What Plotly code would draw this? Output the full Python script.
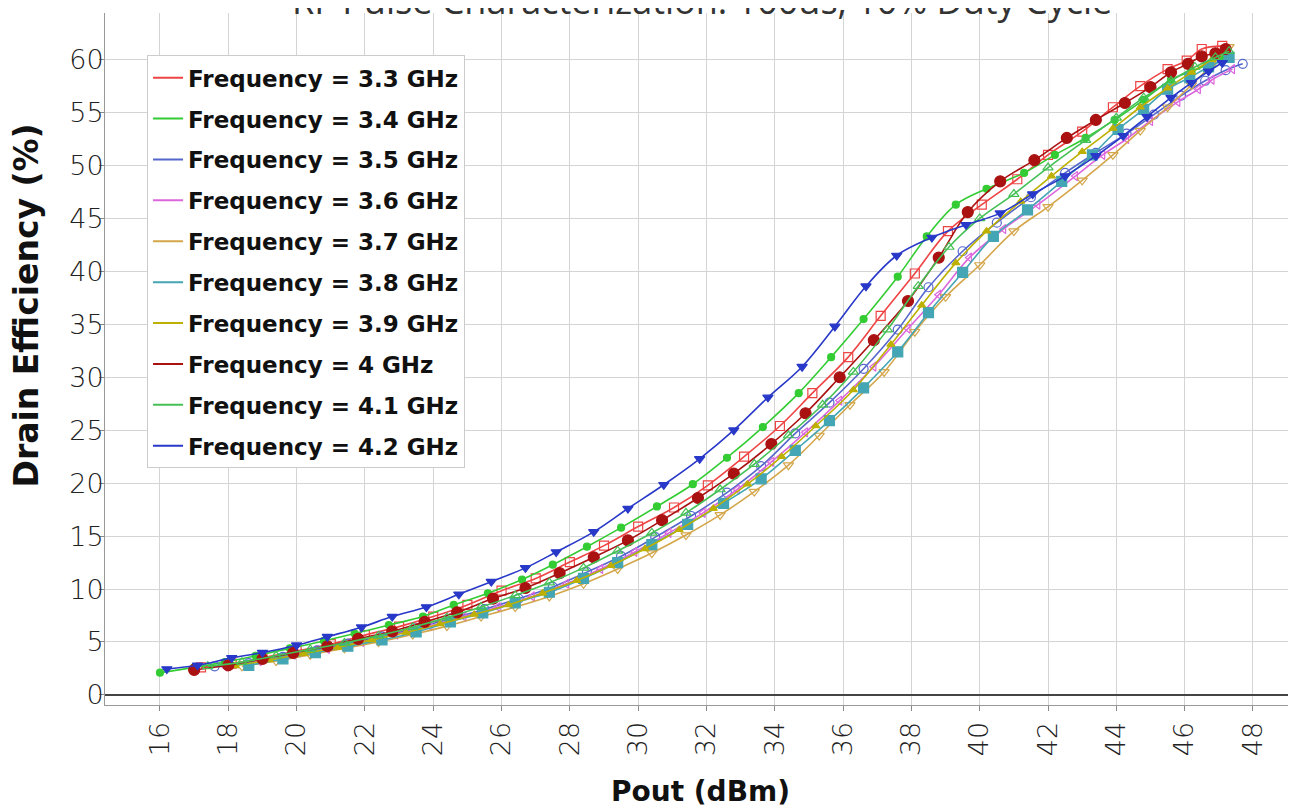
import plotly.graph_objects as go

# Pout (dBm) / drain efficiency (%) per frequency
freqs = ["3.3", "3.4", "3.5", "3.6", "3.7", "3.8", "3.9", "4", "4.1", "4.2"]

x_33 = [17.2, 18.1, 19.0, 20.0, 21.0, 22.0, 23.0, 24.0, 25.0, 26.0, 27.0, 28.0, 29.0, 30.0, 31.05, 32.04, 33.1,
        34.15, 35.1, 36.15, 37.1, 38.1, 39.07, 40.06, 41.1, 42.0, 43.0, 43.9, 44.7, 45.5, 46.06, 46.5, 47.1]
y_33 = [2.6, 2.95, 3.5, 4.15, 4.8, 5.65, 6.45, 7.4, 8.5, 9.85, 11.0, 12.55, 14.1, 15.9, 17.7, 19.8, 22.5,
        25.4, 28.5, 31.9, 35.8, 39.8, 43.8, 46.3, 48.7, 51.0, 53.2, 55.5, 57.5, 59.1, 59.9, 61.0, 61.3]

x_34 = [16.0, 17.0, 17.9, 18.8, 19.8, 20.8, 21.7, 22.7, 23.7, 24.6, 25.6, 26.6, 27.5, 28.5, 29.5, 30.55, 31.6, 32.6,
        33.65, 34.7, 35.65, 36.6, 37.6, 38.45, 39.3, 40.2, 41.3, 42.2, 43.1, 43.95, 44.8, 45.6, 46.2, 46.8, 47.1]
y_34 = [2.1, 2.6, 3.1, 3.7, 4.4, 5.1, 5.8, 6.6, 7.4, 8.5, 9.6, 10.9, 12.3, 14.0, 15.8, 17.8, 19.9, 22.4,
        25.3, 28.5, 31.9, 35.5, 39.5, 43.3, 46.3, 47.8, 49.3, 51.0, 52.6, 54.3, 56.2, 58.1, 58.9, 59.7, 60.3]

x_35 = [17.6, 18.6, 19.6, 20.6, 21.5, 22.5, 23.5, 24.5, 25.5, 26.5, 27.5, 28.5, 29.5, 30.5, 31.55, 32.6, 33.6,
        34.6, 35.6, 36.6, 37.6, 38.5, 39.5, 40.5, 41.5, 42.5, 43.4, 44.3, 45.1, 45.9, 46.6, 47.2, 47.7]
y_35 = [2.7, 3.0, 3.6, 4.2, 4.85, 5.5, 6.3, 7.2, 8.1, 9.1, 10.2, 11.6, 13.1, 14.9, 16.9, 19.1, 21.6,
        24.7, 27.6, 30.8, 34.5, 38.5, 41.9, 44.6, 47.0, 49.3, 51.2, 53.0, 54.8, 56.6, 58.0, 59.0, 59.6]

x_36 = [17.9, 18.9, 19.9, 20.9, 21.9, 22.9, 23.9, 24.9, 25.9, 26.9, 27.9, 28.9, 29.9, 30.9, 31.9, 32.9, 33.9,
        34.9, 35.9, 36.9, 37.9, 38.8, 39.7, 40.7, 41.7, 42.8, 43.6, 44.3, 45.0, 45.8, 46.4, 46.8, 47.4]
y_36 = [2.7, 3.2, 3.8, 4.35, 5.0, 5.7, 6.5, 7.4, 8.3, 9.3, 10.5, 11.9, 13.5, 15.3, 17.2, 19.4, 22.0,
        24.8, 27.8, 31.0, 34.6, 37.8, 41.3, 44.0, 46.3, 49.0, 51.0, 52.5, 54.2, 56.0, 57.2, 58.1, 59.1]

x_37 = [18.4, 19.4, 20.4, 21.4, 22.4, 23.4, 24.4, 25.4, 26.4, 27.4, 28.4, 29.4, 30.4, 31.4, 32.4, 33.4, 34.4,
        35.3, 36.2, 37.2, 38.1, 39.0, 40.0, 41.0, 42.0, 43.0, 43.9, 44.7, 45.5, 46.2, 46.8, 47.3]
y_37 = [2.7, 3.2, 3.8, 4.4, 5.0, 5.7, 6.5, 7.4, 8.3, 9.3, 10.5, 11.9, 13.4, 15.1, 17.0, 19.2, 21.7,
        24.5, 27.4, 30.5, 34.3, 37.6, 40.6, 43.8, 46.1, 48.6, 51.0, 53.3, 55.5, 57.6, 59.5, 61.2]

x_38 = [18.6, 19.6, 20.55, 21.5, 22.5, 23.5, 24.5, 25.45, 26.4, 27.4, 28.4, 29.4, 30.4, 31.45, 32.5, 33.6,
        34.6, 35.6, 36.6, 37.6, 38.5, 39.5, 40.4, 41.4, 42.4, 43.3, 44.05, 44.8, 45.5, 46.15, 46.7, 47.3]
y_38 = [2.8, 3.4, 4.0, 4.6, 5.2, 5.95, 6.9, 7.75, 8.7, 9.7, 11.0, 12.5, 14.2, 16.1, 18.1, 20.4,
        23.1, 25.9, 29.0, 32.4, 36.1, 39.9, 43.3, 45.8, 48.5, 51.0, 53.4, 55.3, 57.2, 58.3, 59.3, 60.2]

x_39 = [18.2, 19.2, 20.2, 21.2, 22.2, 23.2, 24.2, 25.2, 26.2, 27.2, 28.2, 29.2, 30.2, 31.2, 32.2, 33.2, 34.2,
        35.2, 36.3, 37.4, 38.3, 39.3, 40.2, 41.2, 42.1, 43.0, 43.9, 44.7, 45.5, 46.2, 46.8, 47.2]
y_39 = [2.75, 3.3, 3.9, 4.5, 5.2, 5.9, 6.7, 7.6, 8.5, 9.6, 10.8, 12.2, 13.8, 15.6, 17.6, 19.9, 22.5,
        25.4, 28.8, 33.1, 36.8, 40.8, 43.8, 46.6, 49.0, 51.3, 53.5, 55.5, 57.3, 58.8, 60.0, 60.8]

x_40 = [17.0, 18.0, 19.0, 19.9, 20.9, 21.8, 22.8, 23.75, 24.7, 25.75, 26.7, 27.7, 28.7, 29.7, 30.7, 31.75, 32.8,
        33.9, 34.9, 35.9, 36.9, 37.9, 38.8, 39.65, 40.6, 41.6, 42.55, 43.4, 44.25, 45.0, 45.6, 46.1, 46.5, 46.9, 47.2]
y_40 = [2.36, 2.8, 3.4, 3.97, 4.6, 5.3, 6.0, 6.9, 7.8, 9.1, 10.1, 11.5, 13.0, 14.6, 16.5, 18.6, 20.9,
        23.7, 26.6, 30.0, 33.5, 37.2, 41.3, 45.6, 48.5, 50.5, 52.6, 54.3, 55.9, 57.4, 58.8, 59.6, 60.3, 60.6, 61.0]

x_41 = [17.4, 18.4, 19.4, 20.4, 21.4, 22.4, 23.4, 24.4, 25.4, 26.4, 27.4, 28.4, 29.4, 30.4, 31.4, 32.4, 33.4,
        34.4, 35.4, 36.3, 37.3, 38.2, 39.1, 40.0, 41.0, 42.0, 43.1, 44.0, 44.8, 45.6, 46.3, 46.9, 47.3]
y_41 = [2.7, 3.1, 3.7, 4.3, 4.9, 5.6, 6.4, 7.3, 8.3, 9.4, 10.6, 12.0, 13.6, 15.3, 17.2, 19.4, 21.8,
        24.5, 27.4, 30.5, 34.5, 38.6, 42.3, 45.0, 47.3, 49.8, 52.4, 54.5, 56.4, 58.0, 59.3, 60.2, 60.8]

x_42 = [16.2, 17.1, 18.1, 19.0, 20.0, 20.9, 21.9, 22.8, 23.8, 24.75, 25.7, 26.7, 27.6, 28.7, 29.7, 30.75, 31.8,
        32.8, 33.8, 34.8, 35.76, 36.67, 37.57, 38.6, 39.6, 40.6, 41.55, 42.5, 43.4, 44.2, 44.9, 45.6, 46.2, 46.7, 47.1]
y_42 = [2.45, 2.8, 3.5, 4.0, 4.7, 5.5, 6.4, 7.4, 8.3, 9.5, 10.7, 12.0, 13.5, 15.4, 17.6, 19.85, 22.3,
        25.0, 28.1, 31.0, 34.8, 38.6, 41.5, 43.2, 44.4, 45.5, 47.3, 49.0, 50.9, 52.8, 54.6, 56.4, 57.8, 58.9, 59.7]

xs = [x_33, x_34, x_35, x_36, x_37, x_38, x_39, x_40, x_41, x_42]
ys = [y_33, y_34, y_35, y_36, y_37, y_38, y_39, y_40, y_41, y_42]

colors = ["#ee4444", "#33cc33", "#5566cc", "#dd66dd", "#d4a64a",
          "#44a6b4", "#bdb000", "#aa1111", "#44c055", "#2838c8"]
symbols = ["square-open", "circle", "circle-open", "triangle-left-open", "triangle-down-open",
           "square", "triangle-up", "circle", "triangle-up-open", "triangle-down"]
sizes = [9, 7, 9, 8, 9, 10, 7, 11, 9, 9]

fig = go.Figure()

for i, f in enumerate(freqs):
    fig.add_trace(go.Scatter(
        x=xs[i], y=ys[i],
        mode="lines+markers",
        line=dict(color=colors[i], width=1.6, shape="spline"),
        marker=dict(symbol=symbols[i], size=sizes[i], color=colors[i],
                    line=dict(color=colors[i], width=1.2)),
        showlegend=False,
    ))

# legend shows only the line
for i, f in enumerate(freqs):
    fig.add_trace(go.Scatter(
        x=[None], y=[None],
        mode="lines",
        line=dict(color=colors[i], width=2),
        name=f"Frequency = {f} GHz",
        legendgroup=f,
    ))

# title sits mostly above the top edge, only its lower part shows
fig.add_annotation(
    text="RF Pulse Characterization: 100us, 10% Duty Cycle",
    xref="paper", yref="paper", x=0.501, y=1.0174,
    xanchor="center", yanchor="middle", showarrow=False,
    font=dict(family="Open Sans", size=36, color="#333"),
)

# y title placed by hand (sits a bit above the middle in the original)
fig.add_annotation(
    text="<b>Drain Efficiency (%)</b>",
    xref="paper", yref="paper", x=-0.066, y=0.578,
    xanchor="center", yanchor="middle", textangle=-90, showarrow=False,
    font=dict(family="DejaVu Sans", size=33, color="#111"),
)

fig.update_layout(
    width=1288, height=800,
    margin=dict(l=97, r=0, t=5, b=103),
    paper_bgcolor="white",
    plot_bgcolor="white",
    font=dict(family="Open Sans", color="#222"),
    legend=dict(x=0.0353, y=0.939, xanchor="left", yanchor="top",
                bgcolor="white", bordercolor="#cccccc", borderwidth=1,
                font=dict(family="DejaVu Sans", size=23, color="#111", weight="bold"),
                tracegroupgap=8),
)

fig.update_xaxes(
    range=[14.39, 49.26], automargin=False,
    tickmode="array", tickvals=list(range(16, 49, 2)),
    tickangle=-90, tickfont=dict(family="DejaVu Sans", size=27, color="#222", weight=300),
    ticks="outside", ticklen=5, tickcolor="#888",
    showgrid=True, gridcolor="#d4d4d4",
    showline=True, linecolor="#999", mirror=False,
    zeroline=False,
    title=dict(text="<b>Pout (dBm)</b>", font=dict(family="DejaVu Sans", size=28, color="#111"), standoff=27),
)
fig.update_yaxes(
    range=[-0.95, 64.4], automargin=False,
    tickmode="array", tickvals=list(range(0, 61, 5)),
    tickfont=dict(family="DejaVu Sans", size=27, color="#222", weight=300),
    ticks="outside", ticklen=5, tickcolor="#888",
    ticklabelstandoff=-10,
    showgrid=True, gridcolor="#d4d4d4",
    showline=True, linecolor="#999",
    zeroline=True, zerolinecolor="#444", zerolinewidth=1.5,
)

fig.write_html("out.html")
